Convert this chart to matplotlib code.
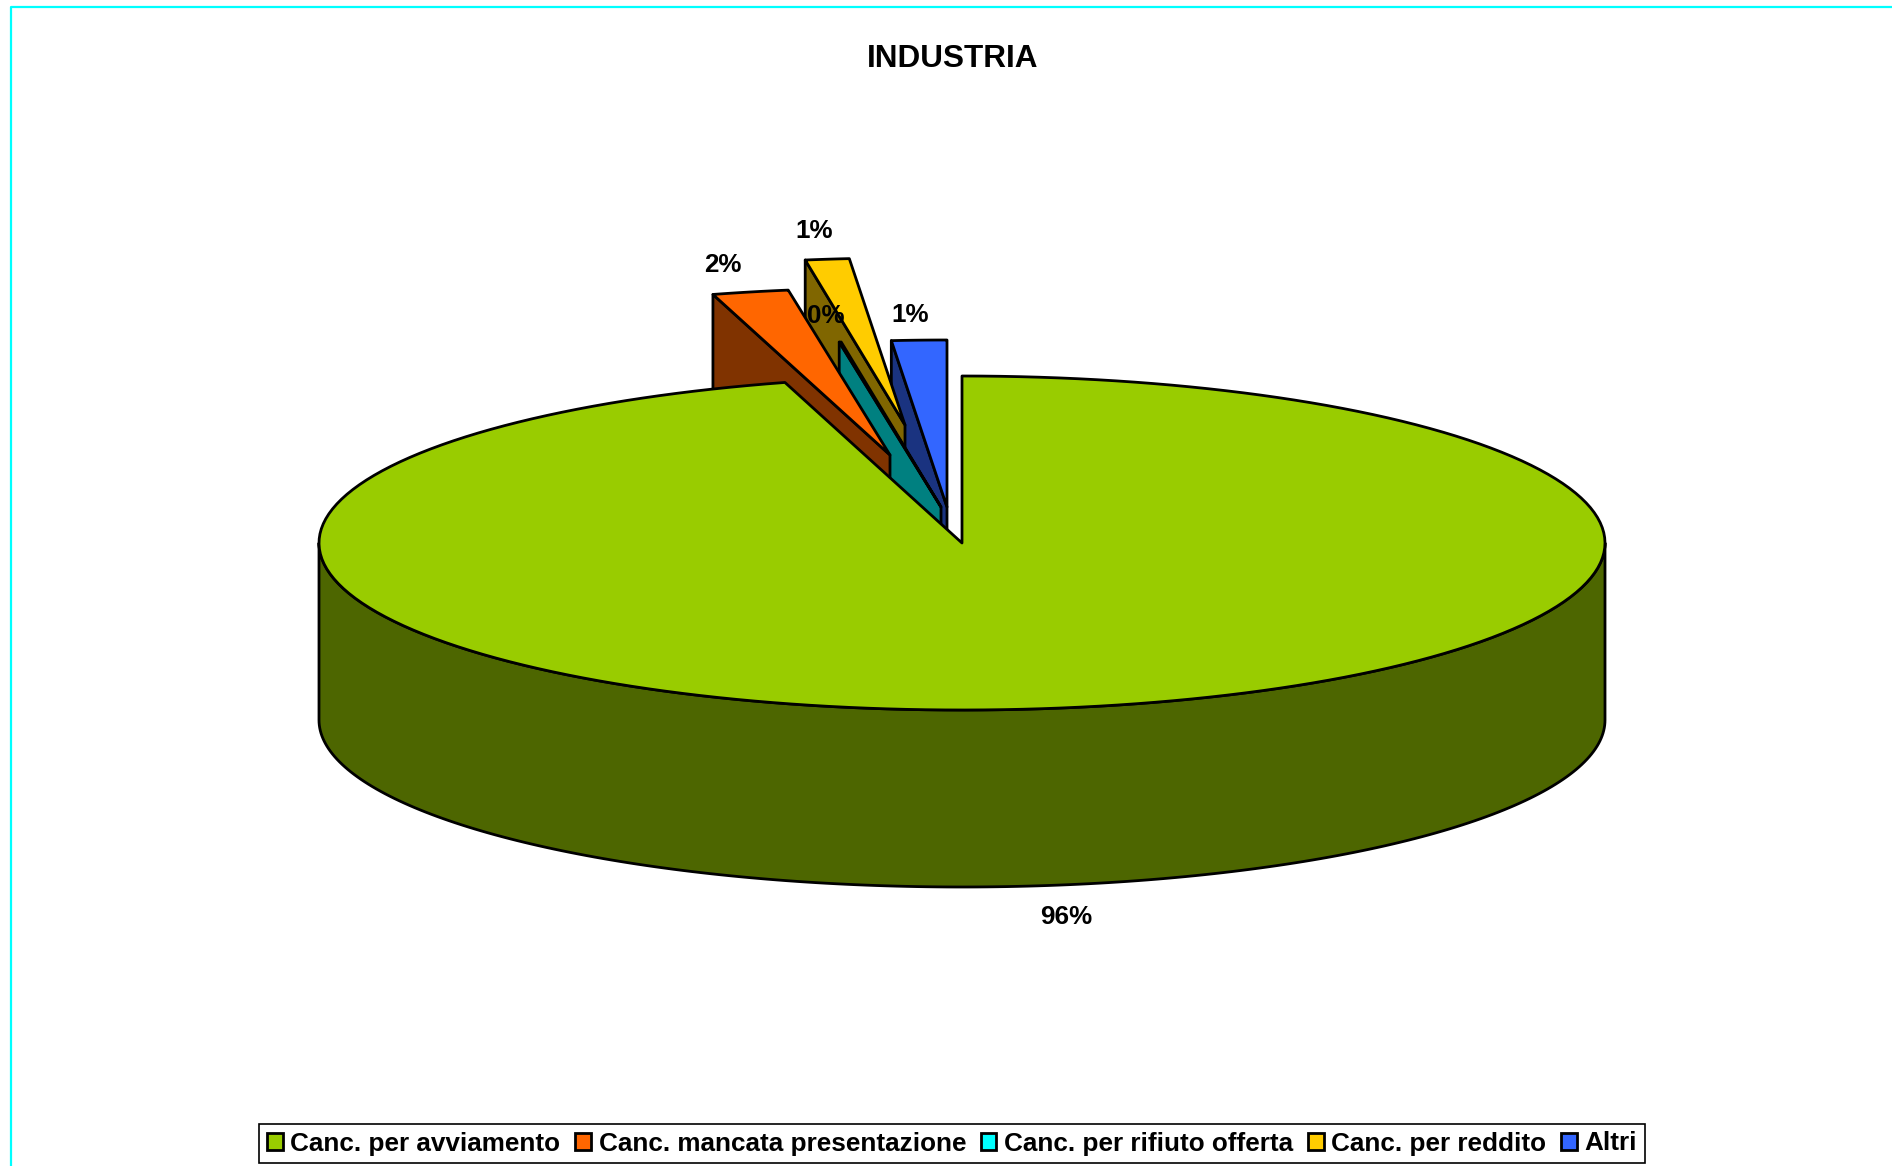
import numpy as np
import matplotlib
matplotlib.use("Agg")
import matplotlib.pyplot as plt
from matplotlib.patches import Polygon, Patch

plt.rcParams['font.family'] = ['Liberation Sans', 'DejaVu Sans']

# === Data ===
categories = ["Canc. per avviamento", "Canc. mancata presentazione",
              "Canc. per rifiuto offerta", "Canc. per reddito", "Altri"]
shares = [95.56, 1.91, 0.05, 1.10, 1.38]

# === Look of the 3D pie ===
top_colors = ["#99CC00", "#FF6600", "#00FFFF", "#FFCC00", "#3366FF"]
side_colors = ["#4D6600", "#803300", "#008080", "#806600", "#1A3380"]
# how far each slice is pulled out, in pixels
pull_x = [0, -72, -21, -57, -15]
pull_y = [0, -88, -36, -118, -36]
draw_order = [4, 3, 2, 1, 0]
label_pos = [(1066, 917), (723, 265), (826, 316), (814, 231), (910, 315)]

cx, cy = 962, 543
rx, ry = 643, 167
depth = 177
line = 2.0

fig = plt.figure(figsize=(18.92, 11.66), dpi=100)
ax = fig.add_axes([0, 0, 1, 1])
ax.set_xlim(0, 1892)
ax.set_ylim(1166, 0)
ax.axis("off")

# thin frame of the sheet, only top and left are visible
ax.plot([10.5, 10.5, 1892], [1166, 6.5, 6.5], color="#00FFFF", lw=1.6, zorder=1)


def arc(a0, a1, ox=0, oy=0):
    # angles in degrees, clockwise from 12 o'clock
    a = np.radians(np.linspace(a0, a1, 200))
    return np.column_stack([cx + ox + rx * np.sin(a), cy + oy - ry * np.cos(a)])


values = np.array(shares, dtype=float)
ends = np.cumsum(values) / values.sum() * 360
starts = np.r_[0, ends[:-1]]

for i in draw_order:
    a0, a1 = starts[i], ends[i]
    ox, oy = pull_x[i], pull_y[i]
    apex = np.array([cx + ox, cy + oy])
    z = 10 + draw_order.index(i) * 2

    if i == 0:
        # front wall of the big slice
        rim = arc(90, 270)
        wall = np.vstack([rim, (rim + [0, depth])[::-1]])
        ax.add_patch(Polygon(wall, closed=True, fc=side_colors[i], ec="black",
                             lw=line, joinstyle="round", zorder=z))
    else:
        # radial side that faces the viewer
        outer = arc(a0, a0, ox, oy)[0]
        side = [apex, outer, outer + [0, depth], apex + [0, depth]]
        ax.add_patch(Polygon(side, closed=True, fc=side_colors[i], ec="black",
                             lw=line, joinstyle="round", zorder=z))

    top = np.vstack([apex, arc(a0, a1, ox, oy)])
    ax.add_patch(Polygon(top, closed=True, fc=top_colors[i], ec="black",
                         lw=line, joinstyle="round", zorder=z + 1))

    ax.text(label_pos[i][0], label_pos[i][1], f"{values[i]:.0f}%", fontsize=18.7,
            fontweight="bold", ha="center", va="center", color="black", zorder=40)

ax.text(953, 59, "INDUSTRIA", fontsize=22.7, fontweight="bold", ha="center",
        va="center", color="black", zorder=40)

handles = [Patch(fc=c, ec="black", lw=2) for c in top_colors]
leg = ax.legend(handles, categories, ncol=5, loc="center",
                bbox_to_anchor=(952 / 1892, 1 - 1143.5 / 1166),
                prop={"size": 18.8, "weight": "bold"}, frameon=True, fancybox=False,
                framealpha=1, edgecolor="black", borderpad=0.3, borderaxespad=0,
                handlelength=0.6, handleheight=0.6, handletextpad=0.3,
                columnspacing=0.56, labelspacing=0)
leg.get_frame().set_linewidth(1.2)
leg.set_zorder(40)

plt.savefig("out.png", dpi=100, facecolor="white")
plt.close()
